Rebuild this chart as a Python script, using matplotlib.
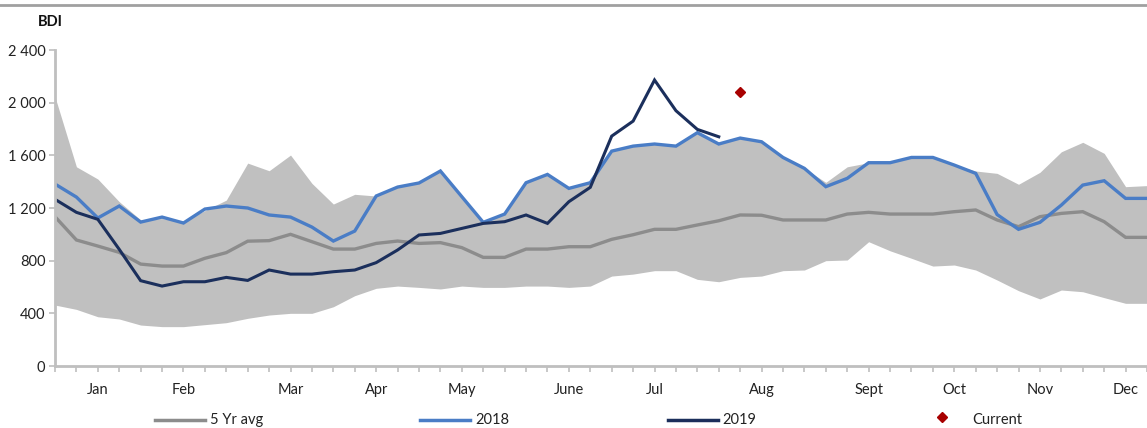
import numpy as np
import matplotlib
matplotlib.use("Agg")
from matplotlib import pyplot as plt
from matplotlib.lines import Line2D

plt.rcParams['font.family'] = ['Lato', 'DejaVu Sans']

# weekly BDI values (52 weeks)
band_high = [2045, 1513, 1420, 1248, 1110, 1120, 1100, 1180, 1260, 1541,
             1483, 1602, 1387, 1230, 1304, 1291, 1359, 1390, 1481, 1286,
             1096, 1154, 1392, 1455, 1349, 1392, 1632, 1670, 1686, 1670,
             1772, 1686, 1731, 1703, 1584, 1501, 1395, 1513, 1544, 1544,
             1584, 1584, 1526, 1481, 1463, 1380, 1471, 1627, 1699, 1615,
             1362, 1370]
band_low = [463, 430, 374, 357, 311, 299, 299, 314, 329, 362,
            387, 400, 400, 450, 534, 590, 607, 597, 585, 607,
            597, 597, 607, 607, 597, 607, 683, 698, 724, 724,
            658, 640, 673, 683, 724, 729, 800, 805, 944, 875,
            818, 759, 767, 729, 653, 572, 509, 577, 564, 519,
            476, 476]
avg5 = [1134, 957, 911, 863, 774, 759, 759, 818, 861, 948,
        952, 1000, 944, 888, 888, 931, 949, 931, 937, 899,
        825, 825, 888, 888, 906, 906, 962, 997, 1038, 1038,
        1071, 1103, 1147, 1145, 1109, 1109, 1109, 1154, 1167, 1154,
        1154, 1154, 1172, 1185, 1109, 1058, 1134, 1159, 1172, 1096,
        977, 977]
y2018 = [1382, 1283, 1124, 1215, 1093, 1131, 1086, 1192, 1215, 1200,
         1147, 1131, 1055, 949, 1025, 1291, 1359, 1390, 1481, 1286,
         1091, 1154, 1392, 1455, 1349, 1392, 1632, 1670, 1686, 1670,
         1772, 1686, 1731, 1703, 1584, 1501, 1362, 1425, 1544, 1544,
         1584, 1584, 1526, 1463, 1150, 1038, 1091, 1222, 1374, 1407,
         1273, 1273]
y2019 = [1266, 1167, 1114, 886, 648, 607, 640, 640, 673, 650,
         729, 698, 698, 716, 729, 785, 881, 995, 1007, 1045,
         1083, 1096, 1147, 1083, 1248, 1357, 1746, 1860, 2172, 1939,
         1797, 1741]
current_week = 32
current_value = 2083

month_labels = ['Jan', 'Feb', 'Mar', 'Apr', 'May', 'June', 'Jul', 'Aug',
                'Sept', 'Oct', 'Nov', 'Dec']
month_weeks = [2, 6, 11, 15, 19, 24, 28, 33, 38, 42, 46, 50]
y_ticks = [0, 400, 800, 1200, 1600, 2000, 2400]

weeks = np.arange(len(avg5))

fig = plt.figure(figsize=(11.47, 4.28), dpi=100)
ax = fig.add_axes([55 / 1147, 62 / 428, 1 - 55 / 1147, 316 / 428])

ax.fill_between(weeks, band_low, band_high, color='#C0C0C0', lw=0)
ax.plot(weeks, avg5, color='#8C8C8C', lw=2.4, solid_joinstyle='miter')
ax.plot(weeks, y2018, color='#4A7DC6', lw=2.4, solid_joinstyle='miter')
ax.plot(np.arange(len(y2019)), y2019, color='#1B2F5C', lw=2.2,
        solid_joinstyle='miter')
ax.plot([current_week], [current_value], marker='D', ms=5.5,
        color='#A80000', ls='none')

ax.set_xlim(0, (1147 - 55) / 21.6)
ax.set_ylim(0, 2400)

ax.set_xticks(weeks)
labels = [''] * len(weeks)
for m, w in zip(month_labels, month_weeks):
    labels[w] = m
ax.set_xticklabels(labels, fontsize=10.5, color='#222222')
ax.set_yticks(y_ticks)
ax.set_yticklabels([f'{v:,}'.replace(',', ' ') for v in y_ticks],
                   fontsize=10.5, color='#222222')
ax.tick_params(axis='x', length=4, width=1.2, color='#BFBFBF', pad=8)
ax.tick_params(axis='y', length=4, width=1.2, color='#BFBFBF', pad=3)

for s in ['top', 'right']:
    ax.spines[s].set_visible(False)
for s in ['left', 'bottom']:
    ax.spines[s].set_color('#BFBFBF')
    ax.spines[s].set_linewidth(2)

fig.text(38 / 1147, 1 - 22 / 428, 'BDI', fontsize=10.5, fontweight='bold',
         va='center', ha='left', color='#111111')

# top rule
fig.add_artist(Line2D([0, 1], [1 - 5 / 428, 1 - 5 / 428],
                      color='#A0A0A0', lw=2))

# legend
ly = 1 - 420 / 428
entries = [(155, 205, 210, '5 Yr avg', '#8C8C8C', 2.5),
           (420, 470, 475, '2018', '#4A7DC6', 2.5),
           (668, 718, 722, '2019', '#1B2F5C', 2.5)]
for x0, x1, xt, name, col, lw in entries:
    fig.add_artist(Line2D([x0 / 1147, x1 / 1147], [ly, ly], color=col, lw=lw))
    fig.text(xt / 1147, ly, name, fontsize=10.5, va='center',
             ha='left', color='#222222')
fig.add_artist(Line2D([942 / 1147], [ly + 0.008], marker='D', ms=5,
                      color='#A80000', ls='none'))
fig.text(972 / 1147, ly, 'Current', fontsize=10.5, va='center',
         ha='left', color='#222222')

fig.savefig('out.png', dpi=100)
